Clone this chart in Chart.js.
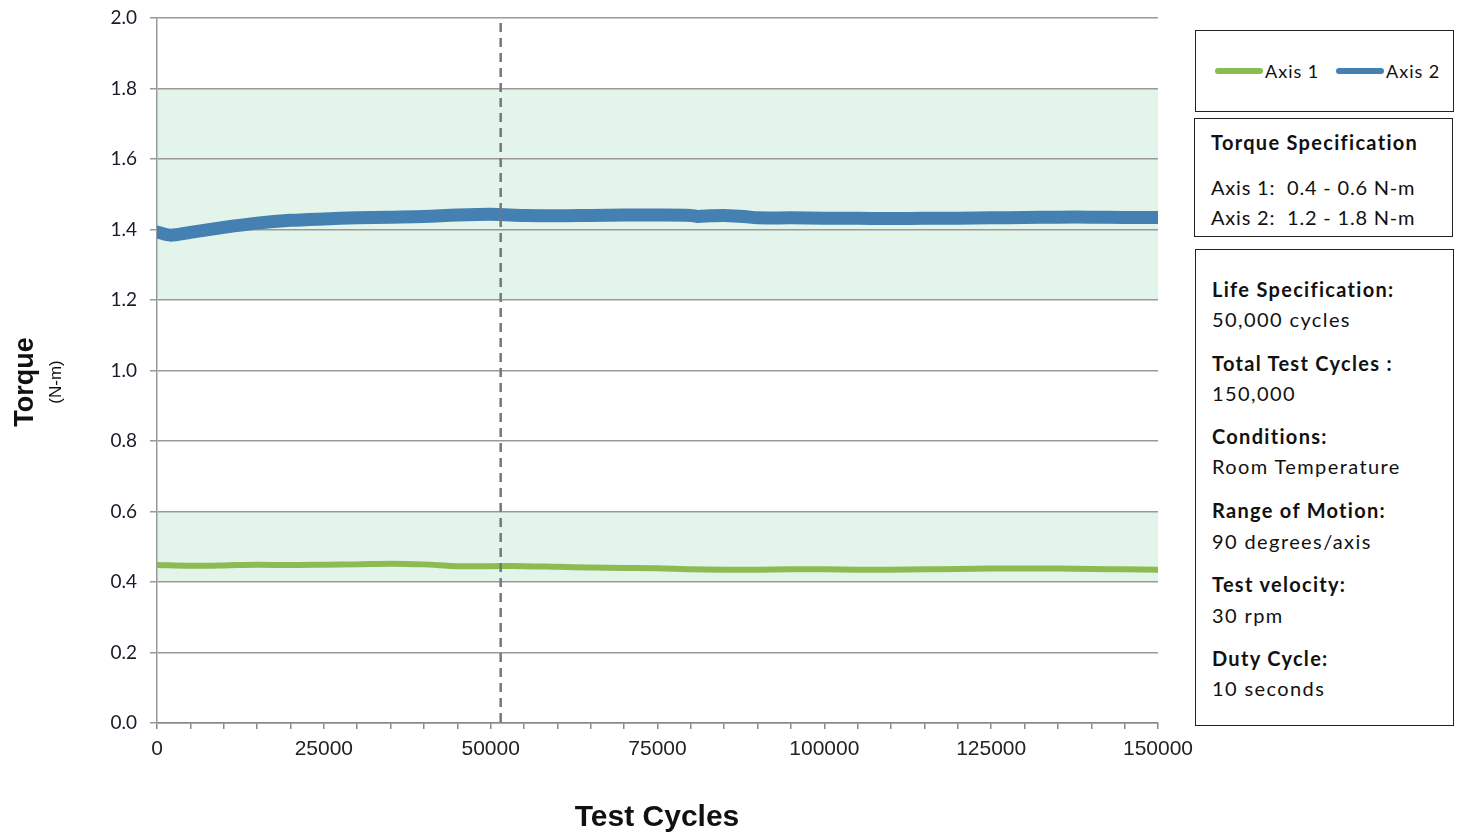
<!DOCTYPE html>
<html>
<head>
<meta charset="utf-8">
<script src="https://cdn.jsdelivr.net/npm/chart.js@4"></script>
<style>
  html, body { margin: 0; padding: 0; background: #fff; }
  body { width: 1460px; height: 833px; position: relative; overflow: hidden; font-family: Lato, "Open Sans", sans-serif; color: #111; }
  #wrap { position: absolute; left: 0; top: 0; width: 1195px; height: 833px; }
  .box { position: absolute; border: 1.5px solid #222; box-sizing: border-box; background: #fff; }
  .t { position: absolute; white-space: nowrap; font-size: 20px; line-height: 1; letter-spacing: 1.4px; }
  .b { font-weight: bold; letter-spacing: 1.3px; }
  .sw { position: absolute; height: 6px; border-radius: 3px; }
  .ytitle { position: absolute; white-space: nowrap; font-family: "Liberation Sans", Arial, sans-serif; font-weight: bold; transform: translate(-50%, -50%) rotate(-90deg); }
  .xtitle { position: absolute; white-space: nowrap; font-family: "Liberation Sans", Arial, sans-serif; font-weight: bold; font-size: 30px; transform: translate(-50%, -50%); }
</style>
</head>
<body>
<div id="wrap"><canvas id="c" width="1195" height="833" style="width:1195px;height:833px;"></canvas></div>

<div class="ytitle" style="left:24px; top:382px; font-size:27px;">Torque</div>
<div class="ytitle" style="left:56px; top:382px; font-size:17px; font-weight:normal;">(N-m)</div>
<div class="xtitle" style="left:657px; top:816px;">Test Cycles</div>

<div class="box" style="left:1195px; top:30px; width:259px; height:82px;">
  <div class="sw" style="left:19px; top:37px; width:48px; background:#8cbb52;"></div>
  <div class="t" style="left:69px; top:31px; font-size:18px; letter-spacing:1px;">Axis 1</div>
  <div class="sw" style="left:140px; top:37px; width:48px; background:#4580b2;"></div>
  <div class="t" style="left:190px; top:31px; font-size:18px; letter-spacing:1px;">Axis 2</div>
</div>

<div class="box" style="left:1194px; top:118px; width:259px; height:119px;">
  <div class="t b" style="left:16px; top:13px;">Torque Specification</div>
  <div class="t" style="left:16px; top:58px; letter-spacing:0.8px;">Axis 1:&nbsp; 0.4 - 0.6 N-m</div>
  <div class="t" style="left:16px; top:88px; letter-spacing:0.8px;">Axis 2:&nbsp; 1.2 - 1.8 N-m</div>
</div>

<div class="box" style="left:1195px; top:249px; width:259px; height:477px;">
  <div class="t b" style="left:16px; top:29px;">Life Specification:</div>
  <div class="t" style="left:16px; top:59px;">50,000 cycles</div>
  <div class="t b" style="left:16px; top:103px;">Total Test Cycles :</div>
  <div class="t" style="left:16px; top:133px;">150,000</div>
  <div class="t b" style="left:16px; top:176px;">Conditions:</div>
  <div class="t" style="left:16px; top:206px;">Room Temperature</div>
  <div class="t b" style="left:16px; top:250px;">Range of Motion:</div>
  <div class="t" style="left:16px; top:281px;">90 degrees/axis</div>
  <div class="t b" style="left:16px; top:324px;">Test velocity:</div>
  <div class="t" style="left:16px; top:355px;">30 rpm</div>
  <div class="t b" style="left:16px; top:398px;">Duty Cycle:</div>
  <div class="t" style="left:16px; top:428px;">10 seconds</div>
</div>

<script>
// ---- data ----
const axis2Cycles = [0, 2000, 5000, 10000, 15000, 20000, 25000, 30000, 35000, 40000, 45000, 50000, 55000, 60000, 65000, 70000, 75000, 80000, 81000, 83000, 85000, 88000, 90000, 95000, 100000, 105000, 110000, 115000, 120000, 125000, 130000, 135000, 140000, 145000, 150000];
const axis2Torque = [1.393, 1.384, 1.392, 1.406, 1.418, 1.426, 1.430, 1.433, 1.435, 1.437, 1.441, 1.443, 1.440, 1.439, 1.440, 1.441, 1.441, 1.440, 1.437, 1.439, 1.440, 1.437, 1.433, 1.433, 1.432, 1.432, 1.431, 1.432, 1.432, 1.433, 1.434, 1.435, 1.435, 1.434, 1.434];
const axis1Cycles = [0, 5000, 10000, 15000, 20000, 25000, 30000, 35000, 40000, 45000, 50000, 55000, 60000, 65000, 70000, 75000, 80000, 85000, 90000, 95000, 100000, 105000, 110000, 115000, 120000, 125000, 130000, 135000, 140000, 145000, 150000];
const axis1Torque = [0.448, 0.446, 0.447, 0.449, 0.448, 0.449, 0.450, 0.452, 0.450, 0.445, 0.445, 0.445, 0.443, 0.441, 0.440, 0.439, 0.436, 0.435, 0.435, 0.436, 0.436, 0.435, 0.435, 0.436, 0.437, 0.438, 0.438, 0.438, 0.437, 0.436, 0.435];
const specBands = [[0.4, 0.6], [1.2, 1.8]];
const lifeSpecCycles = 51500;
const yTicks = [0, 0.2, 0.4, 0.6, 0.8, 1.0, 1.2, 1.4, 1.6, 1.8, 2.0];
const xLabelEvery = 25000;

const toPts = (xs, ys) => xs.map((x, i) => ({ x: x, y: ys[i] }));

const bandsPlugin = {
  id: 'bands',
  beforeDraw(chart) {
    const { ctx, chartArea, scales } = chart;
    ctx.save();
    ctx.fillStyle = '#e3f4ea';
    specBands.forEach(([lo, hi]) => {
      const y1 = scales.y.getPixelForValue(hi), y2 = scales.y.getPixelForValue(lo);
      ctx.fillRect(chartArea.left, y1, chartArea.right - chartArea.left, y2 - y1);
    });
    ctx.restore();
  }
};
const lifeLinePlugin = {
  id: 'lifeLine',
  afterDatasetsDraw(chart) {
    const { ctx, chartArea, scales } = chart;
    const x = scales.x.getPixelForValue(lifeSpecCycles);
    ctx.save();
    ctx.strokeStyle = '#777';
    ctx.lineWidth = 2.5;
    ctx.setLineDash([9, 6]);
    ctx.beginPath();
    ctx.moveTo(x, chartArea.top + 5);
    ctx.lineTo(x, chartArea.bottom);
    ctx.stroke();
    ctx.restore();
  }
};

new Chart(document.getElementById('c'), {
  type: 'line',
  data: {
    datasets: [
      { label: 'Axis 1', data: toPts(axis1Cycles, axis1Torque), borderColor: '#8cbb52', borderWidth: 6, pointRadius: 0, borderCapStyle: 'round', tension: 0.3 },
      { label: 'Axis 2', data: toPts(axis2Cycles, axis2Torque), borderColor: '#4580b2', borderWidth: 13, pointRadius: 0, borderCapStyle: 'round', tension: 0.3 }
    ]
  },
  options: {
    responsive: false,
    animation: false,
    devicePixelRatio: 1,
    layout: { padding: { left: 0, top: 18, right: 37, bottom: 0 } },
    plugins: { legend: { display: false }, tooltip: { enabled: false } },
    scales: {
      x: {
        type: 'linear', min: 0, max: 150000,
        afterFit(s) { s.height = 110; s.paddingLeft = 0; s.paddingRight = 0; },
        ticks: {
          stepSize: 5000, autoSkip: false, maxRotation: 0, padding: 8,
          color: '#222',
          font: { family: '"Liberation Sans", Arial, sans-serif', size: 21 },
          callback: v => (v % xLabelEvery === 0 ? String(v) : '')
        },
        grid: { drawOnChartArea: false, drawTicks: true, tickLength: 6, color: '#888', lineWidth: 1.5 },
        border: { color: '#888', width: 1.5 }
      },
      y: {
        min: 0, max: 2,
        afterFit(s) { s.width = 157; s.paddingTop = 0; s.paddingBottom = 0; },
        afterBuildTicks(s) { s.ticks = yTicks.map(v => ({ value: v })); },
        ticks: {
          padding: 13, color: '#1a1a2a',
          font: { family: 'Lato, "Open Sans", sans-serif', size: 19 },
          callback: v => Number(v).toFixed(1)
        },
        grid: { color: '#999', lineWidth: 1.5, tickLength: 7 },
        border: { color: '#999', width: 1.5 }
      }
    }
  },
  plugins: [bandsPlugin, lifeLinePlugin]
});
</script>
</body>
</html>
